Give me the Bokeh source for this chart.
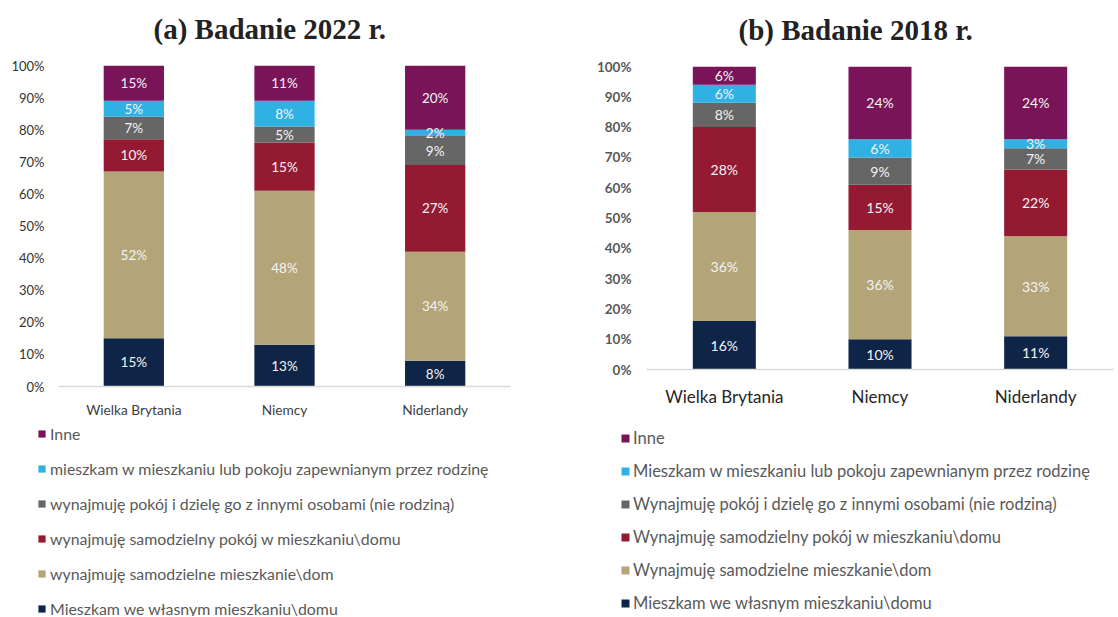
from bokeh.plotting import figure
from bokeh.layouts import column, row
from bokeh.models import (Legend, LegendItem, FixedTicker, Title, ColumnDataSource,
                          Range1d, FactorRange)
from bokeh.core.properties import value
from bokeh.embed import file_html
from bokeh.resources import INLINE

# ---------------- data ----------------
countries = ["Wielka Brytania", "Niemcy", "Niderlandy"]
series_keys = ["own", "apt", "room", "shared", "family", "other"]

own_2022 = [15, 13, 8]
apt_2022 = [52, 48, 34]
room_2022 = [10, 15, 27]
shared_2022 = [7, 5, 9]
family_2022 = [5, 8, 2]
other_2022 = [15, 11, 20]

own_2018 = [16, 10, 11]
apt_2018 = [36, 36, 33]
room_2018 = [28, 15, 22]
shared_2018 = [8, 9, 7]
family_2018 = [6, 6, 3]
other_2018 = [6, 24, 24]

names_2022 = [
    "Mieszkam we własnym mieszkaniu\\domu",
    "wynajmuję samodzielne mieszkanie\\dom",
    "wynajmuję samodzielny pokój w mieszkaniu\\domu",
    "wynajmuję pokój i dzielę go z innymi osobami (nie rodziną)",
    "mieszkam w mieszkaniu lub pokoju zapewnianym przez rodzinę",
    "Inne",
]
names_2018 = [
    "Mieszkam we własnym mieszkaniu\\domu",
    "Wynajmuję samodzielne mieszkanie\\dom",
    "Wynajmuję samodzielny pokój w mieszkaniu\\domu",
    "Wynajmuję pokój i dzielę go z innymi osobami (nie rodziną)",
    "Mieszkam w mieszkaniu lub pokoju zapewnianym przez rodzinę",
    "Inne",
]
y_ticks = [0, 10, 20, 30, 40, 50, 60, 70, 80, 90, 100]
titles = ["(a)  Badanie 2022 r.", "(b)  Badanie 2018 r."]

colors = ["#0f2547", "#b3a577", "#941a32", "#666666", "#2fb1e3", "#781457"]

data_2022 = [own_2022, apt_2022, room_2022, shared_2022, family_2022, other_2022]
data_2018 = [own_2018, apt_2018, room_2018, shared_2018, family_2018, other_2018]

FONT = "Lato"
CHART_H = 420
LEG_H = 196


def make_chart(title, series, width, bl, br, bt, bb, bar_w, tick_fs, tick_style,
               cat_fs, lab_fs, cat_standoff, y_standoff, tick_color, cat_color,
               title_offset):
    p = figure(x_range=FactorRange(*countries), y_range=Range1d(0, 100),
               width=width, height=CHART_H, output_backend="svg",
               toolbar_location=None, min_border_left=bl, min_border_right=br,
               min_border_top=bt, min_border_bottom=bb, outline_line_color=None,
               frame_align=False)
    p.title = Title(text=title, align="left", offset=title_offset,
                    text_font="Liberation Serif", text_font_size="29px",
                    text_font_style="bold", text_color="#222222", standoff=0)
    # spacer between title and plot frame
    p.add_layout(Title(text=" ", text_font_size="2px", standoff=17), "above")

    data = {"country": countries}
    for k, v in zip(series_keys, series):
        data[k] = v
    src = ColumnDataSource(data)
    p.vbar_stack(series_keys, x="country", width=bar_w, color=colors,
                 line_color=None, source=src)

    # labels
    lx, ly, lt = [], [], []
    for i, c in enumerate(countries):
        bottom = 0
        for v in series:
            top = bottom + v[i]
            vis_top = min(top, 100)
            lx.append(c)
            ly.append((bottom + vis_top) / 2)
            lt.append(f"{v[i]}%")
            bottom = top
    lsrc = ColumnDataSource(dict(x=lx, y=ly, t=lt))
    p.text(x="x", y="y", text="t", source=lsrc, text_align="center",
           text_baseline="middle", text_color="#f4f4f4",
           text_font=value(FONT), text_font_size=value(lab_fs))

    p.xgrid.visible = False
    p.ygrid.visible = False
    xa = p.xaxis[0]
    xa.axis_line_color = "#d9d9d9"
    xa.axis_line_width = 1.5
    xa.major_tick_line_color = None
    xa.minor_tick_line_color = None
    xa.major_tick_out = 0
    xa.major_tick_in = 0
    xa.major_label_text_font = FONT
    xa.major_label_text_font_size = cat_fs
    xa.major_label_text_color = cat_color
    xa.major_label_standoff = cat_standoff

    ya = p.yaxis[0]
    ya.ticker = FixedTicker(ticks=y_ticks)
    ya.major_label_overrides = {t: f"{t}%" for t in y_ticks}
    ya.axis_line_color = None
    ya.major_tick_line_color = None
    ya.minor_tick_line_color = None
    ya.major_tick_out = 0
    ya.major_tick_in = 0
    ya.major_label_text_font = FONT
    ya.major_label_text_font_size = tick_fs
    ya.major_label_text_font_style = tick_style
    ya.major_label_text_color = tick_color
    ya.major_label_standoff = y_standoff
    return p


def make_legend(names, width, bl, bt, glyph, standoff, fs, spacing):
    lp = figure(width=width, height=LEG_H, output_backend="svg",
                toolbar_location=None, x_axis_location=None, y_axis_location=None,
                x_range=Range1d(10, 20), y_range=Range1d(10, 20),
                min_border_left=bl, min_border_top=bt, min_border_right=0,
                min_border_bottom=0, outline_line_color=None, frame_align=False)
    lp.xgrid.visible = False
    lp.ygrid.visible = False
    items = []
    for name, col in zip(names, colors):
        r = lp.vbar(x=[0], top=[0], width=0.5, fill_color=col, line_color=None)
        items.append(LegendItem(label=name, renderers=[r]))
    items.reverse()
    leg = Legend(items=items, location="top_left", padding=0, margin=0,
                 border_line_color=None, background_fill_alpha=0,
                 glyph_width=glyph, glyph_height=glyph, label_standoff=standoff,
                 label_text_font=FONT, label_text_font_size=fs,
                 label_text_color="#595959", label_height=20, spacing=spacing)
    lp.add_layout(leg)
    return lp


pa = make_chart(titles[0], data_2022, 583, 58, 73, 65, 32, 0.40, "13px", "normal",
                "13.7px", "13.5px", 14, 14, "#333333", "#404040", 95)
pb = make_chart(titles[1], data_2018, 535, 63, 5, 66, 51, 0.405, "13.5px", "bold",
                "17px", "14px", 16, 15, "#595959", "#262626", 92)
la = make_legend(names_2022, 583, 37, 3, 9, 4, "15.9px", 15)
lb = make_legend(names_2018, 535, 37, 8, 10, 3, "16.5px", 13)

layout = column(row(pa, pb), row(la, lb))
open("out.html", "w").write(file_html(layout, INLINE))
